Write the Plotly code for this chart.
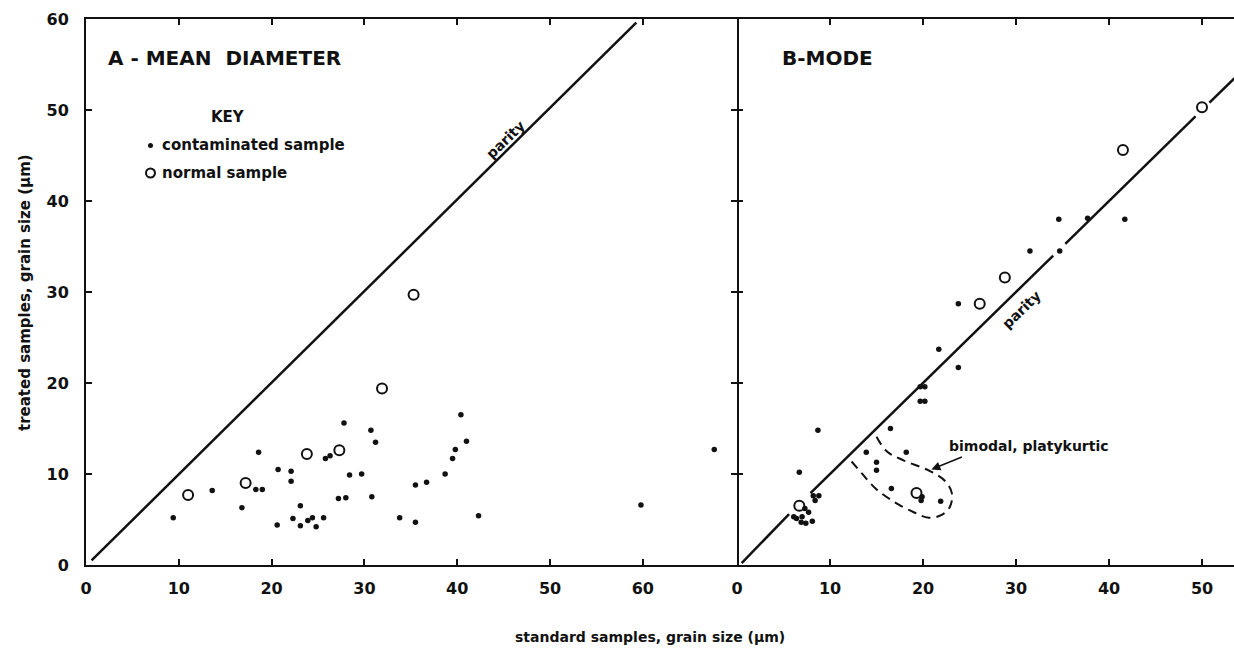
import plotly.graph_objects as go

# ---------------- data ----------------
# Panel A - mean diameter
a_cont_x = [9.4, 13.6, 16.8, 18.3, 19.0, 18.6, 20.7, 20.6, 22.1, 22.1, 23.1, 22.3, 23.1, 23.9,
            24.4, 24.8, 25.6, 25.8, 26.3, 27.8, 28.4, 27.2, 28.0, 29.7, 30.7, 31.2, 30.8, 33.8,
            35.5, 35.5, 36.7, 38.7, 39.5, 39.8, 41.0, 40.4, 42.3, 59.8, 67.7]
a_cont_y = [5.2, 8.2, 6.3, 8.3, 8.3, 12.4, 10.5, 4.4, 10.3, 9.2, 6.5, 5.1, 4.3, 4.9,
            5.2, 4.2, 5.2, 11.7, 12.0, 15.6, 9.9, 7.3, 7.4, 10.0, 14.8, 13.5, 7.5, 5.2,
            4.7, 8.8, 9.1, 10.0, 11.7, 12.7, 13.6, 16.5, 5.4, 6.6, 12.7]
a_norm_x = [11.0, 17.2, 23.8, 27.3, 31.9, 35.3]
a_norm_y = [7.7, 9.0, 12.2, 12.6, 19.4, 29.7]
a_parity_x = [0.6, 59.3]
a_parity_y = [0.5, 59.6]

# Panel B - mode
b_cont_x = [21.7, 23.8, 19.7, 20.2, 19.7, 20.2, 8.7, 16.5, 13.9, 18.2, 15.0, 15.0, 6.7, 16.6,
            19.9, 19.8, 21.9, 8.2, 8.8, 8.4, 7.3, 7.7, 6.4, 7.0, 6.9, 7.4, 8.1, 6.1,
            34.6, 31.5, 34.7, 23.8, 37.7, 41.7]
b_cont_y = [23.7, 21.7, 19.6, 19.6, 18.0, 18.0, 14.8, 15.0, 12.4, 12.4, 11.3, 10.4, 10.2, 8.4,
            7.5, 7.1, 7.0, 7.6, 7.6, 7.1, 6.2, 5.8, 5.1, 5.3, 4.7, 4.6, 4.8, 5.3,
            38.0, 34.5, 34.5, 28.7, 38.1, 38.0]
b_norm_x = [6.7, 19.3, 26.1, 28.8, 41.5, 50.0]
b_norm_y = [6.5, 7.9, 28.7, 31.6, 45.6, 50.3]
b_parity_x = [0.5, 5.6, None, 7.9, 34.0, None, 35.3, 49.3, None, 50.8, 53.5]
b_parity_y = [0.2, 5.6, None, 7.9, 34.0, None, 35.3, 49.3, None, 50.8, 53.5]
b_group_x = [15.0, 16.1, 17.9, 20.8, 22.4, 23.1, 22.9, 22.0, 20.6, 19.0, 16.8, 14.9, 13.4, 12.3]
b_group_y = [14.1, 12.5, 11.5, 10.3, 9.2, 7.9, 6.4, 5.5, 5.2, 5.8, 7.0, 8.4, 10.1, 11.4]

x_ticks_a = [0, 10, 20, 30, 40, 50, 60]
x_ticks_b = [0, 10, 20, 30, 40, 50]
y_ticks = [0, 10, 20, 30, 40, 50, 60]

FONT = "DejaVu Sans"
BLACK = "#111111"

fig = go.Figure()

def dots(x, y, xa, ya):
    fig.add_trace(go.Scatter(x=x, y=y, mode="markers", xaxis=xa, yaxis=ya,
                             marker=dict(size=5.5, color=BLACK), showlegend=False))

def circles(x, y, xa, ya):
    fig.add_trace(go.Scatter(x=x, y=y, mode="markers", xaxis=xa, yaxis=ya,
                             marker=dict(size=10, symbol="circle-open", color=BLACK,
                                         line=dict(width=2, color=BLACK)), showlegend=False))

fig.add_trace(go.Scatter(x=a_parity_x, y=a_parity_y, mode="lines", xaxis="x", yaxis="y",
                         line=dict(color=BLACK, width=2.5), showlegend=False))
dots(a_cont_x, a_cont_y, "x", "y")
circles(a_norm_x, a_norm_y, "x", "y")

fig.add_trace(go.Scatter(x=b_parity_x, y=b_parity_y, mode="lines", xaxis="x2", yaxis="y2",
                         line=dict(color=BLACK, width=2.5), showlegend=False, connectgaps=False))
fig.add_trace(go.Scatter(x=b_group_x, y=b_group_y, mode="lines", xaxis="x2", yaxis="y2",
                         line=dict(color=BLACK, width=2, dash="9px,6px", shape="spline"),
                         showlegend=False))
dots(b_cont_x, b_cont_y, "x2", "y2")
circles(b_norm_x, b_norm_y, "x2", "y2")

W, H = 1234, 650
L, R, T, B = 86, 0, 19, 85
pw = W - L - R
ph = H - T - B
split = (737 - L) / pw

tickfont = dict(family=FONT, size=16, color=BLACK, weight="bold")
axis_common = dict(showgrid=False, zeroline=False, linecolor=BLACK, linewidth=2,
                   ticks="inside", ticklen=6, tickwidth=1.5, tickcolor=BLACK, tickfont=tickfont)

fig.update_layout(
    width=W, height=H, margin=dict(l=L, r=R, t=T, b=B),
    paper_bgcolor="white", plot_bgcolor="white",
    xaxis=dict(domain=[0, split], range=[0, 651 / 9.28], tickvals=x_ticks_a, showline=True,
               mirror="ticks", anchor="y", ticklabelstandoff=8, **axis_common),
    yaxis=dict(domain=[0, 1], range=[0, 60], tickvals=y_ticks, mirror="ticks", showline=True,
               anchor="x", ticklabelstandoff=12, **axis_common),
    xaxis2=dict(domain=[split, 1], range=[0, 497 / 9.3], tickvals=x_ticks_b, showline=True,
                mirror="ticks", anchor="y2", ticklabelstandoff=8, **axis_common),
    yaxis2=dict(domain=[0, 1], range=[0, 60], tickvals=y_ticks, showticklabels=False,
                showline=False, anchor="x2", **axis_common),
)

def px_ann(x, y, text, size=16, angle=0, xanchor="left", yanchor="middle"):
    fig.add_annotation(x=(x - L) / pw, y=(H - B - y) / ph, xref="paper", yref="paper",
                       text=text, showarrow=False, xanchor=xanchor, yanchor=yanchor,
                       textangle=angle,
                       font=dict(family=FONT, size=size, color=BLACK, weight="bold"))

def px_shape_circle(cx, cy, r, filled):
    fig.add_shape(type="circle", xref="paper", yref="paper",
                  x0=(cx - r - L) / pw, x1=(cx + r - L) / pw,
                  y0=(H - B - cy - r) / ph, y1=(H - B - cy + r) / ph,
                  fillcolor=BLACK if filled else "rgba(0,0,0,0)",
                  line=dict(color=BLACK, width=0 if filled else 2))

# panel titles
px_ann(106, 58, "A - MEAN&nbsp;&nbsp;DIAMETER", size=20)
px_ann(780, 58, "B-MODE", size=20)
# key
px_ann(228, 117, "KEY", size=15, xanchor="center")
px_ann(160, 145, "contaminated sample", size=15)
px_ann(160, 173, "normal sample", size=15)
px_shape_circle(150.5, 145.5, 2.5, True)
px_shape_circle(150.5, 173, 4.5, False)
# parity labels
px_ann(505, 140, "parity", size=14, angle=-44, xanchor="center")
px_ann(1021, 310, "parity", size=14, angle=-44, xanchor="center")
# bimodal label
px_ann(947, 446, "bimodal, platykurtic", size=14)
fig.add_annotation(x=20.9, y=10.5, xref="x2", yref="y2", ax=32, ay=-13, text="",
                   showarrow=True, arrowhead=2, arrowsize=1.2, arrowwidth=1.5, arrowcolor=BLACK)
# axis titles
px_ann(650, 637, "standard samples, grain size (μm)", size=14, xanchor="center")
px_ann(25, 293, "treated samples, grain size (μm)", size=15, angle=-90, xanchor="center")

fig.write_html("out.html", post_script="document.body.style.margin='0';",
               config={"displayModeBar": False})
